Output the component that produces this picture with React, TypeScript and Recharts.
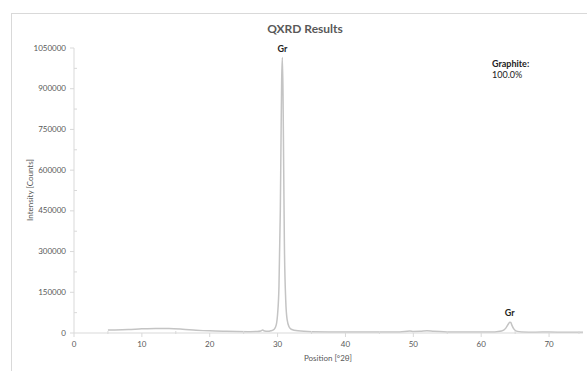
import { LineChart, Line, XAxis, YAxis, ReferenceDot } from "recharts";

// Diffractogram (°2θ, counts)
const positions = [
  5, 6, 8, 10, 12, 14, 16, 18, 20, 22, 24, 26, 27, 27.5, 27.8, 28.1, 28.5, 29, 29.5, 29.8,
  30.0, 30.2, 30.4, 30.5, 30.6, 30.7, 30.8, 30.9, 31.0, 31.2, 31.4, 31.7, 32, 33, 35, 40, 45,
  48, 49.5, 50, 51, 52, 53, 55, 58, 60, 62, 63, 63.6, 64.0, 64.2, 64.35, 64.5, 64.8, 65.2, 66,
  68, 70, 72, 75,
];
const counts = [
  11000, 11500, 13000, 15500, 17000, 16500, 14000, 10500, 8000, 6500, 5500, 5000, 5500, 7500,
  11000, 7000, 6000, 8000, 14000, 30000, 70000, 170000, 450000, 700000, 930000, 1015000,
  880000, 600000, 330000, 120000, 50000, 22000, 14000, 8000, 5000, 3500, 3500, 4000, 7000,
  5500, 6000, 8500, 6000, 4000, 3500, 3500, 4000, 7000, 17000, 33000, 40000, 39000, 30000,
  15000, 7000, 4000, 3000, 3500, 3000, 2500,
];

const xTicks = [0, 5, 10, 15, 20, 25, 30, 35, 40, 45, 50, 55, 60, 65, 70, 75];
const yTicks = [
  0, 75000, 150000, 225000, 300000, 375000, 450000, 525000, 600000, 675000, 750000, 825000,
  900000, 975000, 1050000,
];

const peakLabels = [
  { pos: 30.7, value: 1015000, name: "Gr" },
  { pos: 64.2, value: 40000, name: "Gr" },
];

const phaseName = "Graphite:";
const phaseAmount = "100.0%";

const data = positions.map((p, i) => ({ pos: p, counts: counts[i] }));

const AXIS = "#d9d9d9";
const TEXT = "#595959";
const FONT = "Lato, 'Open Sans', sans-serif";

function YTick(props: any) {
  const { x, y, payload } = props;
  const major = payload.value % 150000 === 0;
  return (
    <g>
      {major ? (
        <>
          <line x1={x + 4} x2={x + 8} y1={y} y2={y} stroke={AXIS} />
          <text x={x} y={y} dy="0.32em" textAnchor="end" fontSize={8} fill={TEXT} fontFamily={FONT}>
            {payload.value}
          </text>
        </>
      ) : (
        <line x1={x + 8} x2={x + 11} y1={y} y2={y} stroke={AXIS} />
      )}
    </g>
  );
}

function XTick(props: any) {
  const { x, y, payload } = props;
  const major = payload.value % 10 === 0;
  return (
    <g>
      {major ? (
        <>
          <line x1={x} x2={x} y1={y - 8} y2={y - 4} stroke={AXIS} />
          <text x={x} y={y} dy="0.71em" textAnchor="middle" fontSize={8} fill={TEXT} fontFamily={FONT}>
            {payload.value}
          </text>
        </>
      ) : (
        <line x1={x} x2={x} y1={y - 10} y2={y - 7} stroke={AXIS} />
      )}
    </g>
  );
}

export default function App() {
  return (
    <div style={{ position: "absolute", left: 0, top: 0, width: 587, height: 371, background: "#fff", overflow: "hidden" }}>
      <div
        style={{
          position: "absolute",
          left: 11,
          top: 13,
          width: 600,
          height: 400,
          borderTop: "1px solid #d9d9d9",
          borderLeft: "1px solid #d9d9d9",
        }}
      />
      <LineChart
        width={587}
        height={371}
        data={data}
        margin={{ top: 48, right: 4, bottom: 8, left: 14 }}
        style={{ position: "absolute", left: 0, top: 0 }}
      >
        <XAxis
          dataKey="pos"
          type="number"
          domain={[0, 75]}
          ticks={xTicks}
          tick={<XTick />}
          tickLine={false}
          tickSize={8}
          tickMargin={0}
          height={30}
          stroke={AXIS}
        />
        <YAxis
          type="number"
          domain={[0, 1050000]}
          ticks={yTicks}
          tick={<YTick />}
          tickLine={false}
          tickSize={8}
          tickMargin={0}
          width={60}
          stroke={AXIS}
          interval={0}
        />
        <Line
          dataKey="counts"
          type="monotone"
          stroke="#c4c4c4"
          strokeWidth={1.5}
          dot={false}
          isAnimationActive={false}
        />
        {peakLabels.map((p, i) => (
          <ReferenceDot
            key={i}
            x={p.pos}
            y={p.value}
            r={0}
            stroke="none"
            fill="none"
            label={{ value: p.name, position: "top", offset: 6, fontSize: 9, fontWeight: 700, fill: "#222", fontFamily: FONT }}
          />
        ))}
        <text x={305} y={33} textAnchor="middle" fontSize={12} fontWeight={700} fill={TEXT} fontFamily={FONT}>
          QXRD Results
        </text>
        <text x={492} y={67} fontSize={9} fontWeight={700} fill="#222" fontFamily={FONT}>
          {phaseName}
        </text>
        <text x={492} y={78} fontSize={9} fill="#222" fontFamily={FONT}>
          {phaseAmount}
        </text>
        <text x={328} y={361} textAnchor="middle" fontSize={8} fill={TEXT} fontFamily={FONT}>
          Position [°2θ]
        </text>
        <text
          x={33}
          y={190}
          textAnchor="middle"
          fontSize={8}
          fill={TEXT}
          fontFamily={FONT}
          transform="rotate(-90 33 190)"
        >
          Intensity [Counts]
        </text>
      </LineChart>
    </div>
  );
}
